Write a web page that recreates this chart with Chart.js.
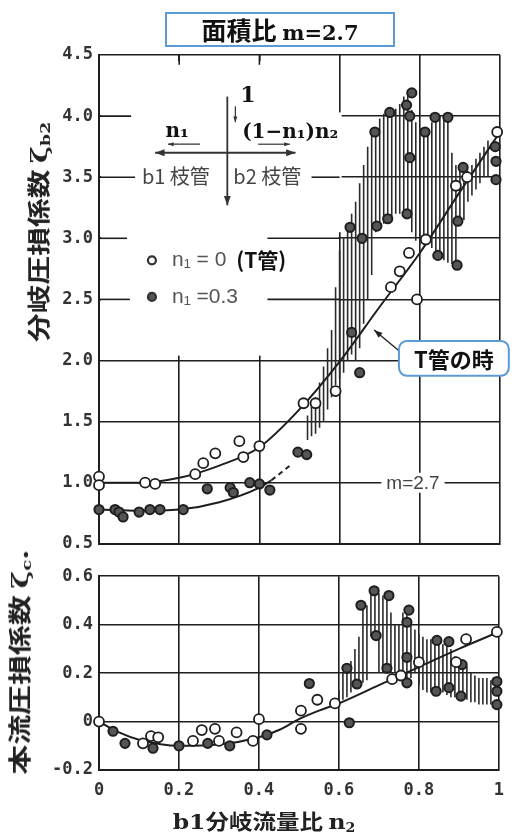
<!DOCTYPE html>
<html>
<head>
<meta charset="utf-8">
<script src="https://cdn.jsdelivr.net/npm/chart.js@4.4.1/dist/chart.umd.min.js"></script>
<style>
body { margin: 0; background: #fff; width: 514px; height: 834px; position: relative; overflow: hidden; font-family: "Noto Sans CJK JP", sans-serif; }
#top { position: absolute; left: 0; top: 0; }
#bottom { position: absolute; left: 0; top: 560px; }
.box { position: absolute; left: 165px; top: 12px; width: 226px; height: 31px; border: 2px solid #5b9bd5; background: #fff;
       text-align: center; font-weight: bold; font-size: 25px; line-height: 31px; color: #111; z-index: 2; }
.box span { font-family: "DejaVu Serif"; font-size: 21px; }
.lbl { position: absolute; white-space: nowrap; font-weight: bold; color: #222; z-index: 2; }
.lbl .s { font-family: "DejaVu Serif"; }
sub { font-size: 60%; vertical-align: -0.2em; line-height: 0; }
</style>
</head>
<body>
<canvas id="top" width="514" height="560"></canvas>
<canvas id="bottom" width="514" height="274"></canvas>
<div class="box">面積比 <span>m=2.7</span></div>
<div class="lbl" style="left:37px;top:232px;font-size:23px;transform:translate(-50%,-50%) rotate(-90deg) scaleX(1.25);">分岐圧損係数 <span class="s">ζ<sub>b2</sub></span></div>
<div class="lbl" style="left:18px;top:662px;font-size:23px;transform:translate(-50%,-50%) rotate(-90deg) scaleX(1.3);">本流圧損係数 <span class="s">ζ<sub>c</sub>.</span></div>
<div class="lbl" style="left:264px;top:820px;font-size:21px;transform:translate(-50%,-50%) scaleX(1.12);"><span class="s">b1</span>分岐流量比 <span class="s">n<sub>2</sub></span></div>
<script>
// ---- 分岐損失 ζb2 (上段) ----
// n1 = 0 (T管)
const topOpenX = [0, 0, 0.115, 0.14, 0.24, 0.26, 0.29, 0.35, 0.36, 0.40, 0.51, 0.54, 0.59, 0.728, 0.75, 0.773, 0.793, 0.815, 0.89, 0.918, 0.993];
const topOpenY = [1.05, 0.98, 1.0, 0.99, 1.07, 1.16, 1.24, 1.34, 1.21, 1.30, 1.65, 1.65, 1.75, 2.60, 2.73, 2.88, 2.50, 2.99, 3.43, 3.50, 3.87];
// n1 = 0.3
const topDarkX = [0, 0.04, 0.05, 0.06, 0.10, 0.127, 0.152, 0.21, 0.27, 0.327, 0.335, 0.376, 0.40, 0.426, 0.496, 0.518,
  0.63, 0.65, 0.626, 0.656, 0.688, 0.693, 0.72, 0.725, 0.78, 0.767, 0.775, 0.775, 0.768, 0.813, 0.838, 0.87,
  0.908, 0.895, 0.845, 0.893, 0.988, 0.99, 0.99];
const topDarkY = [0.78, 0.78, 0.76, 0.72, 0.76, 0.78, 0.78, 0.78, 0.95, 0.96, 0.92, 1.0, 0.99, 0.94, 1.25, 1.23,
  2.23, 1.90, 3.09, 3.00, 3.87, 3.10, 3.16, 4.03, 4.19, 4.09, 4.00, 3.66, 3.20, 3.87, 3.99, 3.99,
  3.58, 3.14, 2.86, 2.78, 3.75, 3.63, 3.48];
// 近似曲線
const tCurveX = [0, 0.1, 0.2, 0.3, 0.4, 0.5, 0.6, 0.7, 0.8, 0.9, 1.0];
const tCurveY = [1.0, 1.0, 1.04, 1.14, 1.29, 1.6, 1.99, 2.44, 2.88, 3.38, 3.87];
const n03CurveX = [0, 0.1, 0.2, 0.3, 0.4, 0.43];
const n03CurveY = [0.78, 0.77, 0.78, 0.84, 0.96, 1.02];
const n03DashX = [0.43, 0.48];
const n03DashY = [1.02, 1.15];
// ばらつき範囲 (縦線)
const hatchTopX = [0.52, 0.53, 0.54, 0.55, 0.56, 0.57, 0.58, 0.59, 0.60, 0.61, 0.62, 0.63, 0.64, 0.65, 0.66, 0.67,
  0.68, 0.69, 0.70, 0.71, 0.72, 0.73, 0.74, 0.75, 0.76, 0.77, 0.78, 0.79, 0.80, 0.81, 0.82, 0.83, 0.84, 0.85,
  0.86, 0.87, 0.88, 0.89, 0.90, 0.91, 0.92, 0.93, 0.94, 0.95, 0.96, 0.97];
const hatchTopLow = [1.35, 1.38, 1.40, 1.45, 1.50, 1.60, 1.70, 1.80, 1.85, 1.90, 2.00, 2.05, 2.00, 2.10, 2.30, 2.50,
  2.70, 3.05, 3.10, 3.12, 3.16, 3.18, 3.20, 3.20, 3.20, 3.20, 3.05, 2.98, 2.95, 3.00, 3.02, 2.92, 2.86, 2.85,
  2.82, 2.80, 2.79, 2.78, 3.10, 3.15, 3.30, 3.35, 3.40, 3.45, 3.50, 3.50];
const hatchTopHigh = [1.55, 1.62, 1.70, 1.82, 1.95, 2.10, 2.25, 2.60, 2.90, 3.00, 3.10, 3.20, 3.30, 3.45, 3.60, 3.75,
  3.85, 3.87, 3.98, 4.02, 4.03, 4.04, 4.06, 4.10, 4.16, 4.20, 4.05, 3.95, 3.90, 3.87, 3.90, 3.95, 3.99, 4.00,
  4.00, 3.99, 3.70, 3.60, 3.56, 3.56, 3.55, 3.60, 3.65, 3.70, 3.75, 3.80];
const topTicks = [0.5, 1.0, 1.5, 2.0, 2.5, 3.0, 3.5, 4.0, 4.5];

// ---- 本流損失 ζc (下段) ----
const botOpenX = [0, 0.11, 0.13, 0.148, 0.235, 0.257, 0.29, 0.30, 0.344, 0.385, 0.40, 0.505, 0.505, 0.546, 0.59,
  0.733, 0.755, 0.80, 0.893, 0.918, 0.995];
const botOpenY = [0, -0.09, -0.06, -0.065, -0.08, -0.035, -0.03, -0.08, -0.045, -0.08, 0.01, 0.045, -0.03, 0.09, 0.075,
  0.175, 0.19, 0.245, 0.245, 0.34, 0.37];
const botDarkX = [0.035, 0.065, 0.135, 0.2, 0.272, 0.327, 0.42, 0.526, 0.626, 0.62, 0.645, 0.655, 0.693, 0.688, 0.725,
  0.72, 0.775, 0.77, 0.77, 0.77, 0.845, 0.843, 0.875, 0.875, 0.908, 0.905, 0.995, 0.995, 0.995];
const botDarkY = [-0.04, -0.09, -0.11, -0.10, -0.09, -0.10, -0.055, 0.157, -0.005, 0.22, 0.155, 0.48, 0.355, 0.54, 0.52,
  0.22, 0.46, 0.41, 0.265, 0.16, 0.335, 0.125, 0.33, 0.14, 0.235, 0.105, 0.165, 0.125, 0.07];
const botCurveX = [0, 0.05, 0.1, 0.2, 0.3, 0.4, 0.45, 0.5, 0.55, 0.6, 0.7, 0.8, 0.9, 1.0];
const botCurveY = [0, -0.045, -0.075, -0.1, -0.095, -0.065, -0.035, 0.01, 0.045, 0.075, 0.15, 0.225, 0.3, 0.37];
const hatchBotX = [0.60, 0.61, 0.62, 0.63, 0.64, 0.65, 0.66, 0.67, 0.68, 0.69, 0.70, 0.71, 0.72, 0.73, 0.74, 0.75,
  0.76, 0.77, 0.78, 0.79, 0.80, 0.81, 0.82, 0.83, 0.84, 0.85, 0.86, 0.87, 0.88, 0.89, 0.90, 0.91, 0.92, 0.93,
  0.94, 0.95, 0.96, 0.97, 0.98];
const hatchBotLow = [0.07, 0.09, 0.10, 0.12, 0.14, 0.155, 0.16, 0.17, 0.35, 0.35, 0.20, 0.20, 0.20, 0.20, 0.20, 0.20,
  0.20, 0.16, 0.18, 0.20, 0.15, 0.13, 0.12, 0.12, 0.115, 0.12, 0.12, 0.11, 0.10, 0.10, 0.095, 0.09, 0.09, 0.08,
  0.08, 0.07, 0.07, 0.07, 0.07];
const hatchBotHigh = [0.13, 0.20, 0.22, 0.25, 0.30, 0.35, 0.47, 0.48, 0.54, 0.54, 0.53, 0.52, 0.52, 0.45, 0.40, 0.40,
  0.45, 0.46, 0.40, 0.38, 0.36, 0.35, 0.34, 0.34, 0.33, 0.32, 0.32, 0.32, 0.30, 0.27, 0.25, 0.25, 0.23, 0.20,
  0.19, 0.18, 0.18, 0.18, 0.17];
const botTicks = [-0.2, 0, 0.2, 0.4, 0.6];
const xTicks = [0, 0.2, 0.4, 0.6, 0.8, 1];

const ink = '#1e1e1e';
const tickFont = { family: '"DejaVu Sans Mono"', size: 17, weight: 'bold' };

function pts(xs, ys) {
  return xs.map((x, i) => ({ x: x, y: ys[i] }));
}
// 縦線の束: 各 x で low-high を結び、null で区切る
function hatch(xs, lo, hi) {
  const out = [];
  xs.forEach((x, i) => {
    out.push({ x: x, y: lo[i] }, { x: x, y: hi[i] }, { x: x, y: null });
  });
  return out;
}
function fmt(v) {
  return Math.round(v * 10) / 10;
}

function openSet(data) {
  return { data: data, pointRadius: 5, pointBackgroundColor: '#fff', pointBorderColor: ink, pointBorderWidth: 1.8, order: 0, clip: false };
}
function darkSet(data) {
  return { data: data, pointRadius: 4.6, pointBackgroundColor: '#555', pointBorderColor: ink, pointBorderWidth: 2, order: 0, clip: false };
}
function curveSet(data, dash) {
  return { data: data, showLine: true, pointRadius: 0, borderColor: ink, borderWidth: 2, borderDash: dash || [],
           cubicInterpolationMode: 'monotone', order: 1 };
}
function hatchSet(data) {
  return { data: data, showLine: true, spanGaps: false, pointRadius: 0, borderColor: '#2a2a2a', borderWidth: 1.6, order: 2 };
}

function gridOpts() {
  return { color: ink, lineWidth: 1.6, drawTicks: false };
}

function arrow(ctx, x0, y0, x1, y1, size) {
  ctx.beginPath();
  ctx.moveTo(x0, y0);
  ctx.lineTo(x1, y1);
  ctx.stroke();
  const a = Math.atan2(y1 - y0, x1 - x0);
  ctx.beginPath();
  ctx.moveTo(x1, y1);
  ctx.lineTo(x1 - size * Math.cos(a - 0.35), y1 - size * Math.sin(a - 0.35));
  ctx.lineTo(x1 - size * Math.cos(a + 0.35), y1 - size * Math.sin(a + 0.35));
  ctx.closePath();
  ctx.fill();
}

// 上段の図中説明 (分岐の模式図・凡例・注記)
const topNotes = {
  id: 'topNotes',
  beforeDatasetsDraw(chart) {
    const { ctx, scales: { x, y } } = chart;
    const X = v => x.getPixelForValue(v), Y = v => y.getPixelForValue(v);
    ctx.save();
    ctx.fillStyle = '#fff';
    // 模式図の部分は格子を消す
    ctx.fillRect(X(0) + 2, Y(4.45), X(0.6) - X(0) - 3, Y(2.04) - Y(4.45));
    ctx.fillRect(X(0.6) - 2, Y(4.03), 4, Y(3.05) - Y(4.03));
    ctx.strokeStyle = ink;
    ctx.lineWidth = 1.6;
    const hSeg = [[4.0, 0, 0.08], [3.5, 0, 0.09], [3.5, 0.53, 0.6], [3.0, 0, 0.07], [3.0, 0.42, 0.6], [2.5, 0, 0.077], [2.5, 0.42, 0.6]];
    hSeg.forEach(([yy, a, b]) => {
      ctx.beginPath(); ctx.moveTo(X(a), Y(yy)); ctx.lineTo(X(b), Y(yy)); ctx.stroke();
    });
    [0.2, 0.4].forEach(xx => {
      ctx.beginPath(); ctx.moveTo(X(xx), Y(4.5)); ctx.lineTo(X(xx), Y(4.42)); ctx.stroke();
    });
    // m=2.7 の注記 (格子の上に白抜き)
    ctx.font = '19px "Liberation Sans"';
    ctx.textAlign = 'center';
    ctx.textBaseline = 'middle';
    const mw = ctx.measureText('m=2.7').width;
    ctx.fillStyle = '#fff';
    ctx.fillRect(X(0.783) - mw / 2 - 5, Y(1.0) - 10, mw + 10, 20);
    ctx.fillStyle = '#444';
    ctx.fillText('m=2.7', X(0.783), Y(1.0) + 1);
    ctx.restore();
  },
  afterDatasetsDraw(chart) {
    const { ctx, scales: { x, y } } = chart;
    const X = v => x.getPixelForValue(v), Y = v => y.getPixelForValue(v);
    ctx.save();
    ctx.strokeStyle = '#333';
    ctx.fillStyle = '#333';
    ctx.lineWidth = 1.8;
    // 分岐の模式図
    arrow(ctx, X(0.32), Y(4.16), X(0.32), Y(3.27), 10);
    ctx.lineWidth = 1.2;
    arrow(ctx, X(0.34), Y(4.08), X(0.34), Y(3.95), 6);
    ctx.lineWidth = 1.8;
    arrow(ctx, X(0.32), Y(3.70), X(0.14), Y(3.70), 10);
    arrow(ctx, X(0.32), Y(3.70), X(0.49), Y(3.70), 10);
    ctx.lineWidth = 1.2;
    arrow(ctx, X(0.252), Y(3.77), X(0.172), Y(3.77), 6);
    arrow(ctx, X(0.397), Y(3.77), X(0.476), Y(3.77), 6);

    ctx.fillStyle = '#111';
    ctx.textBaseline = 'middle';
    ctx.textAlign = 'left';
    ctx.font = 'bold 22px "DejaVu Serif"';
    ctx.fillText('1', X(0.352), Y(4.16));
    ctx.font = 'bold 20px "DejaVu Serif"';
    ctx.textAlign = 'center';
    ctx.fillText('n₁', X(0.195), Y(3.87));
    ctx.textAlign = 'left';
    ctx.fillText('(1−n₁)n₂', X(0.357), Y(3.86));
    ctx.fillStyle = '#444';
    ctx.font = '20px "Noto Sans CJK JP"';
    ctx.fillText('b1 枝管', X(0.107), Y(3.51));
    ctx.fillText('b2 枝管', X(0.335), Y(3.51));

    // 凡例
    ctx.lineWidth = 2.2;
    ctx.strokeStyle = '#333';
    ctx.beginPath(); ctx.arc(X(0.132), Y(2.82), 4, 0, Math.PI * 2);
    ctx.fillStyle = '#fff'; ctx.fill(); ctx.stroke();
    ctx.beginPath(); ctx.arc(X(0.132), Y(2.52), 4, 0, Math.PI * 2);
    ctx.fillStyle = '#555'; ctx.fill(); ctx.stroke();
    ctx.fillStyle = '#555';
    ctx.font = '21px "Liberation Sans"';
    ctx.fillText('n₁ = 0', X(0.182), Y(2.82));
    const w0 = ctx.measureText('n₁ = 0 ').width;
    ctx.fillText('n₁ =0.3', X(0.182), Y(2.52));
    ctx.fillStyle = '#111';
    ctx.font = 'bold 21px "Noto Sans CJK JP"';
    ctx.fillText('(T管)', X(0.182) + w0 + 4, Y(2.82));

    // T管の時 の吹き出し
    const bx0 = X(0.748), bx1 = X(1.022), by0 = Y(2.16), by1 = Y(1.875);
    ctx.lineWidth = 1.4;
    ctx.strokeStyle = '#222';
    ctx.fillStyle = '#222';
    arrow(ctx, bx0, Y(2.08), X(0.686), Y(2.25), 9);
    ctx.beginPath();
    ctx.roundRect(bx0, by0, bx1 - bx0, by1 - by0, 8);
    ctx.fillStyle = '#fff';
    ctx.fill();
    ctx.lineWidth = 2;
    ctx.strokeStyle = '#5b9bd5';
    ctx.stroke();
    ctx.fillStyle = '#111';
    ctx.font = 'bold 22px "Noto Sans CJK JP"';
    ctx.textAlign = 'center';
    ctx.fillText('T管の時', (bx0 + bx1) / 2, (by0 + by1) / 2 + 1);
    ctx.restore();
  }
};

new Chart(document.getElementById('top'), {
  type: 'scatter',
  data: {
    datasets: [
      openSet(pts(topOpenX, topOpenY)),
      darkSet(pts(topDarkX, topDarkY)),
      curveSet(pts(tCurveX, tCurveY)),
      curveSet(pts(n03CurveX, n03CurveY)),
      curveSet(pts(n03DashX, n03DashY), [5, 4]),
      hatchSet(hatch(hatchTopX, hatchTopLow, hatchTopHigh))
    ]
  },
  options: {
    responsive: false,
    animation: false,
    layout: { padding: { left: 0, top: 55, right: 14, bottom: 13 } },
    plugins: { legend: { display: false }, tooltip: { enabled: false } },
    scales: {
      x: {
        type: 'linear', min: 0, max: 1,
        afterBuildTicks: s => { s.ticks = xTicks.map(v => ({ value: v })); },
        ticks: { display: false },
        grid: gridOpts(),
        border: { color: ink, width: 2 },
        afterFit: s => { s.height = 0; }
      },
      y: {
        min: 0.5, max: 4.5,
        afterBuildTicks: s => { s.ticks = topTicks.map(v => ({ value: v })); },
        ticks: { font: tickFont, color: '#333', padding: 6, callback: v => fmt(v).toFixed(1) },
        grid: gridOpts(),
        border: { color: ink, width: 2 },
        afterFit: s => { s.width = 99; }
      }
    }
  },
  plugins: [topNotes]
});

new Chart(document.getElementById('bottom'), {
  type: 'scatter',
  data: {
    datasets: [
      openSet(pts(botOpenX, botOpenY)),
      darkSet(pts(botDarkX, botDarkY)),
      curveSet(pts(botCurveX, botCurveY)),
      hatchSet(hatch(hatchBotX, hatchBotLow, hatchBotHigh))
    ]
  },
  options: {
    responsive: false,
    animation: false,
    layout: { padding: { left: 0, top: 13, right: 14, bottom: 0 } },
    plugins: { legend: { display: false }, tooltip: { enabled: false } },
    scales: {
      x: {
        type: 'linear', min: 0, max: 1,
        afterBuildTicks: s => { s.ticks = xTicks.map(v => ({ value: v })); },
        ticks: { font: tickFont, color: '#333', padding: 10, maxRotation: 0,
                 callback: v => { const r = fmt(v); return (r === 0 || r === 1) ? String(r) : r.toFixed(1); } },
        grid: gridOpts(),
        border: { color: ink, width: 2 },
        afterFit: s => { s.height = 64; }
      },
      y: {
        min: -0.2, max: 0.6,
        afterBuildTicks: s => { s.ticks = botTicks.map(v => ({ value: v })); },
        ticks: { font: tickFont, color: '#333', padding: 6,
                 callback: v => { const r = fmt(v); return r === 0 ? '0' : r.toFixed(1); } },
        grid: gridOpts(),
        border: { color: ink, width: 2 },
        afterFit: s => { s.width = 99; }
      }
    }
  }
});
</script>
</body>
</html>
